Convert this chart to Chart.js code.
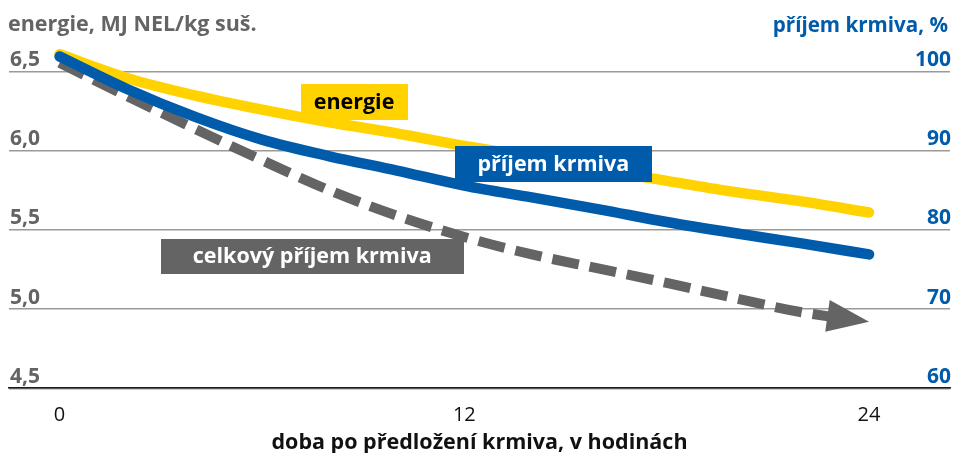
<!DOCTYPE html>
<html><head><meta charset="utf-8">
<script src="https://cdn.jsdelivr.net/npm/chart.js@4"></script>
<style>html,body{margin:0;padding:0;background:#fff}#wrap{width:955px;height:453px;position:relative}</style>
</head><body><div id="wrap"><canvas id="c"></canvas></div>
<script>
// ---- data ----
const hours = [0, 2, 4, 6, 8, 10, 12, 14, 16, 18, 20, 22, 24];
const energy = [6.61, 6.46, 6.35, 6.26, 6.18, 6.11, 6.03, 5.96, 5.88, 5.81, 5.74, 5.68, 5.61];      // MJ NEL/kg suš.
const intake = [101.9, 97.8, 94.3, 91.4, 89.3, 87.5, 85.6, 84.1, 82.6, 81.0, 79.6, 78.3, 76.9];    // %
const totalIntake = [101.1, 96.9, 92.8, 88.8, 85.0, 81.8, 79.1, 76.9, 75.1, 73.3, 71.4, 69.6, 68.4]; // %
const xTicks = [0, 12, 24];
const leftTicks = [4.5, 5.0, 5.5, 6.0, 6.5];
const rightTicks = [60, 70, 80, 90, 100];
const leftTitle = 'energie, MJ NEL/kg suš.';
const rightTitle = 'příjem krmiva, %';
const xTitle = 'doba po předložení krmiva, v hodinách';
const seriesNames = ['energie', 'příjem krmiva', 'celkový příjem krmiva'];

// ---- styles ----
const FONT = '"Open Sans", "Noto Sans", sans-serif';
const YELLOW = '#FFD200', BLUE = '#005BAA', GRAY = '#646464', GRID = '#9a9a9a';

const labelBoxes = [
  {text: seriesNames[0], axis: 'y',  x: 8.73,  y: 6.306, w: 107, h: 36, bg: YELLOW, color: '#000'},
  {text: seriesNames[1], axis: 'y2', x: 14.64, y: 88.31, w: 197, h: 36, bg: BLUE, color: '#fff'},
  {text: seriesNames[2], axis: 'y2', x: 7.49,  y: 76.69, w: 303, h: 35, bg: GRAY, color: '#fff'}
];

function arrowGeom(meta) {
  const pts = meta.data, n = pts.length;
  const tip = pts[n - 1], prev = pts[n - 2];
  const dx = tip.x - prev.x, dy = tip.y - prev.y, L = Math.hypot(dx, dy);
  const ux = dx / L, uy = dy / L;
  const len = 42, hw = 16;
  const bx = tip.x - ux * len, by = tip.y - uy * len;
  return {tip, ux, uy, bx, by, hw};
}

const overlay = {
  id: 'overlay',
  beforeDatasetDraw(chart, args) {
    if (chart.data.datasets[args.index].arrow) {
      const g = arrowGeom(args.meta);
      const ctx = chart.ctx;
      ctx.save();
      ctx.beginPath();
      ctx.rect(0, 0, g.bx + 3, chart.height);
      ctx.clip();
    }
  },
  afterDatasetDraw(chart, args) {
    if (chart.data.datasets[args.index].arrow) {
      const ctx = chart.ctx;
      ctx.restore();
      const g = arrowGeom(args.meta);
      ctx.save();
      ctx.fillStyle = GRAY;
      ctx.beginPath();
      ctx.moveTo(g.tip.x, g.tip.y);
      ctx.lineTo(g.bx - g.uy * g.hw, g.by + g.ux * g.hw);
      ctx.lineTo(g.bx + g.uy * g.hw, g.by - g.ux * g.hw);
      ctx.closePath();
      ctx.fill();
      ctx.restore();
    }
  },
  afterDatasetsDraw(chart) {
    const ctx = chart.ctx;
    const xs = chart.scales.x;
    ctx.save();
    ctx.font = 'bold 21.5px ' + FONT;
    ctx.textAlign = 'center';
    ctx.textBaseline = 'middle';
    labelBoxes.forEach(b => {
      const cx = xs.getPixelForValue(b.x);
      const cy = chart.scales[b.axis].getPixelForValue(b.y);
      ctx.fillStyle = b.bg;
      ctx.fillRect(Math.round(cx - b.w / 2), Math.round(cy - b.h / 2), b.w, b.h);
      ctx.fillStyle = b.color;
      ctx.fillText(b.text, cx, cy + 1);
    });
    // axis titles on top
    ctx.font = 'bold 21.5px ' + FONT;
    ctx.textAlign = 'left';
    ctx.fillStyle = GRAY;
    ctx.fillText(leftTitle, 8, 25);
    ctx.font = 'bold 20.6px ' + FONT;
    ctx.textAlign = 'right';
    ctx.fillStyle = BLUE;
    ctx.fillText(rightTitle, 948, 26);
    ctx.restore();
  }
};

const setTicks = arr => scale => { scale.ticks = arr.map(v => ({value: v})); };

new Chart(document.getElementById('c'), {
  type: 'line',
  data: {
    datasets: [
      {
        label: seriesNames[1], yAxisID: 'y2', order: 0,
        data: hours.map((h, i) => ({x: h, y: intake[i]})),
        borderColor: BLUE, borderWidth: 10.5, borderCapStyle: 'round',
        pointRadius: 0, cubicInterpolationMode: 'monotone', fill: false
      },
      {
        label: seriesNames[2], yAxisID: 'y2', order: 1, arrow: true,
        data: hours.map((h, i) => ({x: h, y: totalIntake[i]})),
        borderColor: GRAY, borderWidth: 10, borderDash: [27, 11], borderCapStyle: 'butt',
        pointRadius: 0, cubicInterpolationMode: 'monotone', fill: false
      },
      {
        label: seriesNames[0], yAxisID: 'y', order: 2,
        data: hours.map((h, i) => ({x: h, y: energy[i]})),
        borderColor: YELLOW, borderWidth: 10.5, borderCapStyle: 'round',
        pointRadius: 0, cubicInterpolationMode: 'monotone', fill: false
      }
    ]
  },
  options: {
    responsive: true, maintainAspectRatio: false, animation: false,
    layout: {padding: {top: 32, left: 7, right: 3, bottom: 0}},
    plugins: {legend: {display: false}, tooltip: {enabled: false}},
    scales: {
      x: {
        type: 'linear', min: -1.5, max: 26.4,
        afterBuildTicks: setTicks(xTicks),
        grid: {display: false, drawTicks: false},
        border: {display: true, color: '#1a1a1a', width: 1.5},
        ticks: {color: '#111', font: {family: FONT, size: 20}, padding: 15, maxRotation: 0,
                callback: v => String(v)},
        title: {display: true, text: xTitle, color: '#111',
                font: {family: FONT, size: 21.5, weight: 'bold'}, padding: {top: -12, bottom: -3}}
      },
      y: {
        type: 'linear', position: 'left', min: 4.5, max: 6.75,
        afterBuildTicks: setTicks(leftTicks),
        grid: {color: GRID, lineWidth: 1.4, drawTicks: false},
        border: {display: false},
        ticks: {mirror: true, padding: 1, labelOffset: -11.5, color: GRAY,
                font: {family: FONT, size: 21, weight: 'bold'},
                callback: v => v.toFixed(1).replace('.', ',')}
      },
      y2: {
        type: 'linear', position: 'right', min: 60, max: 105,
        afterBuildTicks: setTicks(rightTicks),
        grid: {display: false, drawTicks: false},
        border: {display: false},
        ticks: {mirror: true, padding: 1, labelOffset: -11.5, color: BLUE,
                font: {family: FONT, size: 21, weight: 'bold'},
                callback: v => String(v)}
      }
    }
  },
  plugins: [overlay]
});
</script>
</body></html>
